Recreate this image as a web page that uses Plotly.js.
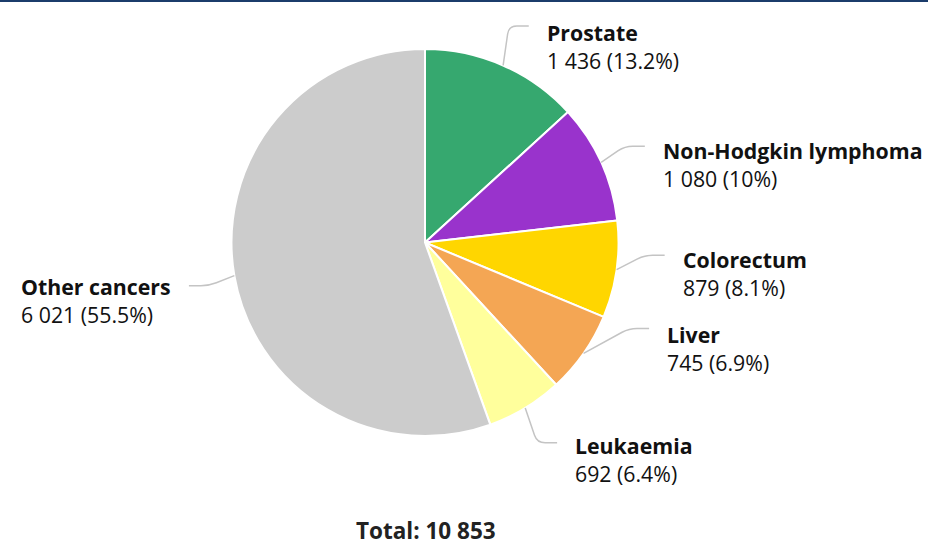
<!DOCTYPE html>
<html>
<head>
<meta charset="utf-8">
<script src="https://cdn.plot.ly/plotly-3.0.1.min.js"></script>
<style>html,body{margin:0;padding:0;background:#fff;}#chart{width:928px;height:547px;}</style>
</head>
<body>
<div id="chart"></div>
<script>
// ---- data ----
const categories = ['Prostate', 'Non-Hodgkin lymphoma', 'Colorectum', 'Liver', 'Leukaemia', 'Other cancers'];
const cases = [1436, 1080, 879, 745, 692, 6021];
const sliceColors = ['#36a86f', '#9933cc', '#ffd600', '#f4a654', '#ffff9c', '#cccccc'];

// ---- layout config (not data) ----
const W = 928, H = 547;
const cx = 425, cy = 242.5, R = 193.5;
const labelDist = 240;
const labelAngleShift = [1.8, 0.8, -5, -14, -2.2, -0.5]; // degrees, collision adjustments
const labelDy = [2, 0, 0, 2, -1, -3];                       // small vertical nudges (px)
const FONT = '"Open Sans", "Noto Sans", sans-serif';

const total = cases.reduce((a, b) => a + b, 0);
const fmt = n => String(n).replace(/\B(?=(\d{3})+(?!\d))/g, ' ');
const pct = v => (v / total * 100).toFixed(1).replace(/\.0$/, '') + '%';

const px = x => x / W;
const py = y => 1 - y / H;

const annotations = [];
const shapes = [{
  type: 'rect', xref: 'paper', yref: 'paper', x0: 0, x1: 1, y0: py(2), y1: 1,
  fillcolor: '#1b3c6b', line: {width: 0}
}];

let cum = 0;
cases.forEach((v, i) => {
  const mid = (cum + v / 2) / total * 2 * Math.PI;
  cum += v;
  const P = [cx + R * Math.sin(mid), cy - R * Math.cos(mid)];
  const a = mid + labelAngleShift[i] * Math.PI / 180;
  const E = [cx + labelDist * Math.sin(a), cy - labelDist * Math.cos(a)];
  const side = Math.sin(a) >= 0 ? 1 : -1;
  const B = [E[0] - 20 * side, E[1]];
  const dPB = Math.hypot(B[0] - P[0], B[1] - P[1]);
  const k = Math.min(8, dPB / 2);
  const B1 = [B[0] + (P[0] - B[0]) * k / dPB, B[1] + (P[1] - B[1]) * k / dPB];
  const B2 = [B[0] + 8 * side, B[1]];
  const path = `M ${px(P[0])},${py(P[1])} L ${px(B1[0])},${py(B1[1])} Q ${px(B[0])},${py(B[1])} ${px(B2[0])},${py(B2[1])} L ${px(E[0])},${py(E[1])}`;
  shapes.push({type: 'path', xref: 'paper', yref: 'paper', path: path, line: {color: '#c4c4c4', width: 1.5}});

  const tx = E[0] + 16 * side;
  annotations.push({
    xref: 'paper', yref: 'paper', x: px(tx), y: py(E[1] + 18 + labelDy[i]),
    xanchor: side > 0 ? 'left' : 'right', yanchor: 'middle', align: 'left',
    showarrow: false, text: '<b>' + categories[i] + '</b><br>' + fmt(v) + ' (' + pct(v) + ')',
    font: {family: FONT, size: 21.3, color: '#111'}
  });
});

annotations.push({
  xref: 'paper', yref: 'paper', x: px(425.5), y: 0, xanchor: 'center', yanchor: 'bottom',
  borderpad: 0, showarrow: false, text: '<b>Total: ' + fmt(total) + '</b>',
  font: {family: FONT, size: 22.5, color: '#222'}
});

const trace = {
  type: 'pie',
  labels: categories,
  values: cases,
  sort: false,
  direction: 'clockwise',
  rotation: 0,
  marker: {colors: sliceColors, line: {color: '#ffffff', width: 2}},
  textinfo: 'none',
  hoverinfo: 'skip',
  showlegend: false,
  domain: {x: [px(cx - R), px(cx + R)], y: [py(cy + R), py(cy - R)]}
};

Plotly.newPlot('chart', [trace], {
  width: W, height: H,
  margin: {l: 0, r: 0, t: 0, b: 0},
  paper_bgcolor: '#ffffff',
  showlegend: false,
  shapes: shapes,
  annotations: annotations,
  font: {family: FONT}
}, {displayModeBar: false, staticPlot: true});
</script>
</body>
</html>
